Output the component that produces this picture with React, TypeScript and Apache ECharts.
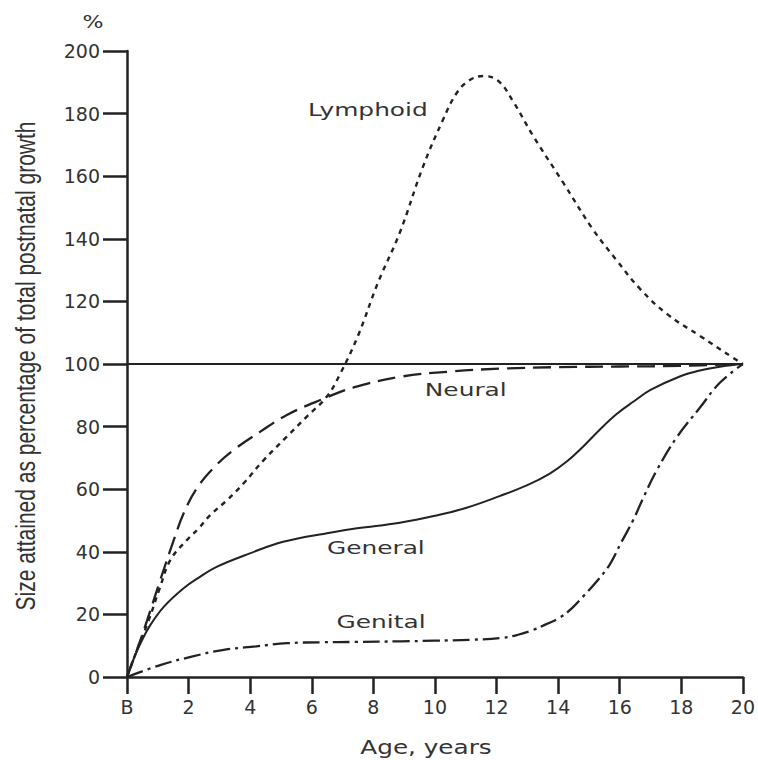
import React, { useEffect, useRef } from "react";
import * as echarts from "echarts";

// ---- data ----
const xTicks = [0, 2, 4, 6, 8, 10, 12, 14, 16, 18, 20];
const yTicks = [0, 20, 40, 60, 80, 100, 120, 140, 160, 180, 200];

const lymphoidAge = [0, 0.3, 0.7, 1.05, 1.41, 1.95, 2.33, 2.71, 3.25, 3.79, 4.44, 5.19, 5.84, 6.49, 6.93, 7.5, 8.15, 8.86, 9.61, 10.26, 10.7, 11.1, 11.56, 12.05, 12.53, 13.18, 14.16, 15.13, 15.91, 16.66, 17.53, 18.6, 19.68, 20];
const lymphoidVal = [0, 8, 18, 28, 37.4, 43.8, 47.5, 51.8, 56.5, 61.9, 69.3, 76.8, 83.2, 89.6, 97, 109, 126, 142, 163, 178, 186.5, 190.5, 192, 190.5, 184, 173, 158, 143, 133, 124, 116, 109, 102, 100];

const neuralAge = [0, 0.3, 0.65, 1.08, 1.52, 1.84, 2.27, 2.81, 3.46, 4.33, 5.19, 6.28, 7.36, 8.86, 10.5, 12.1, 14, 16, 18, 20];
const neuralVal = [0, 8, 18, 31, 43.8, 52.3, 60.3, 66.8, 72.5, 78.4, 83.7, 88.5, 92.5, 95.9, 97.6, 98.5, 99, 99.2, 99.4, 100];

const generalAge = [0, 0.2, 0.45, 0.75, 1.2, 1.83, 2.37, 2.91, 3.99, 5.07, 6.59, 7.47, 8.86, 10.0, 11.0, 12.1, 13.0, 13.73, 14.3, 14.8, 15.35, 15.9, 16.45, 17.0, 17.95, 18.6, 19.3, 20];
const generalVal = [0, 5.4, 11, 16.5, 22.5, 28.3, 32, 35.2, 39.5, 43.2, 46.1, 47.5, 49.3, 51.5, 54, 57.8, 61.3, 65, 69, 73.5, 79, 84, 88, 91.7, 96, 97.9, 99.2, 100];

const genitalAge = [0, 1.08, 2.1, 3.1, 4.2, 5.2, 6.3, 7.4, 8.9, 10.0, 11.2, 12.2, 12.7, 13.18, 13.6, 14.06, 14.45, 14.8, 15.25, 15.68, 16.05, 16.43, 16.8, 17.2, 17.86, 18.6, 19.25, 20];
const genitalVal = [0, 3.8, 6.5, 8.6, 9.8, 10.8, 11.1, 11.2, 11.4, 11.6, 11.9, 12.5, 13.5, 15, 16.8, 19, 22, 25.6, 30.5, 36, 43, 50, 58, 66, 76.7, 86, 94, 100];

const referenceLevel = 100;

const curveLabels = ["Lymphoid", "Neural", "General", "Genital"];
const curveLabelAge = [7.82, 11.0, 8.08, 8.25];
const curveLabelVal = [181.2, 91.7, 41.2, 17.6];

const yTitle = "Size attained as percentage of total postnatal growth";
const xTitle = "Age, years";
const yUnit = "%";

const zip = (a: number[], b: number[]) => a.map((v, i) => [v, b[i]]);

const INK = "#222222";
const TEXT = "#333333";

export default function App() {
  const ref = useRef<HTMLDivElement>(null);

  useEffect(() => {
    if (!ref.current) return;
    const chart = echarts.init(ref.current, undefined, { renderer: "svg" });

    const lineBase = {
      type: "line" as const,
      smooth: 0.4,
      showSymbol: false,
      symbol: "none",
      silent: true,
    };

    chart.setOption({
      animation: false,
      backgroundColor: "#ffffff",
      grid: { left: 127, top: 51, width: 616, height: 626, containLabel: false },
      xAxis: {
        type: "value",
        min: 0,
        max: 20,
        interval: 2,
        axisLine: { show: true, lineStyle: { color: INK, width: 2.5 } },
        axisTick: { show: true, length: 17, lineStyle: { color: INK, width: 2.5 } },
        axisLabel: {
          margin: 20,
          fontSize: 19,
          fontFamily: "DejaVu Sans",
          color: TEXT,
          formatter: (v: number) => (v === xTicks[0] ? "B" : String(v)),
        },
        splitLine: { show: false },
      },
      yAxis: {
        type: "value",
        min: yTicks[0],
        max: yTicks[yTicks.length - 1],
        interval: 20,
        axisLine: { show: true, onZero: false, lineStyle: { color: INK, width: 2.5 } },
        axisTick: { show: true, length: 24, lineStyle: { color: INK, width: 2.5 } },
        axisLabel: {
          margin: 27,
          fontSize: 19,
          fontFamily: "DejaVu Sans",
          color: TEXT,
        },
        splitLine: { show: false },
      },
      series: [
        {
          ...lineBase,
          name: "Lymphoid",
          data: zip(lymphoidAge, lymphoidVal),
          lineStyle: { color: INK, width: 2.4, type: [5, 5] },
        },
        {
          ...lineBase,
          name: "Neural",
          data: zip(neuralAge, neuralVal),
          lineStyle: { color: INK, width: 2.3, type: [18, 8] },
        },
        {
          ...lineBase,
          name: "General",
          data: zip(generalAge, generalVal),
          lineStyle: { color: INK, width: 2, type: "solid" },
          markLine: {
            silent: true,
            symbol: ["none", "none"],
            label: { show: false },
            lineStyle: { color: INK, width: 2, type: "solid" },
            data: [{ yAxis: referenceLevel }],
          },
        },
        {
          ...lineBase,
          name: "Genital",
          data: zip(genitalAge, genitalVal),
          lineStyle: { color: INK, width: 2.3, type: [17, 5, 3, 5] },
        },
      ],
    });

    const labelEls = curveLabels.map((t, i) => {
      const p = chart.convertToPixel({ gridIndex: 0 }, [curveLabelAge[i], curveLabelVal[i]]) as number[];
      return {
        type: "text",
        x: p[0],
        y: p[1],
        scaleX: 1.38,
        silent: true,
        style: {
          text: t,
          fontSize: 18,
          fontFamily: "DejaVu Sans",
          fill: TEXT,
          align: "center",
          verticalAlign: "middle",
        },
      };
    });

    chart.setOption({
      graphic: [
        ...labelEls,
        {
          type: "text",
          x: 93,
          y: 22,
          scaleX: 1.3,
          silent: true,
          style: { text: yUnit, fontSize: 17, fontFamily: "DejaVu Sans", fill: TEXT, align: "center", verticalAlign: "middle" },
        },
        {
          type: "text",
          x: 426,
          y: 748,
          scaleX: 1.3,
          silent: true,
          style: { text: xTitle, fontSize: 19, fontFamily: "DejaVu Sans", fill: TEXT, align: "center", verticalAlign: "middle" },
        },
        {
          type: "text",
          x: 25,
          y: 366,
          rotation: Math.PI / 2,
          scaleY: 1.3,
          silent: true,
          style: { text: yTitle, fontSize: 21, fontFamily: "Liberation Sans", fill: TEXT, align: "center", verticalAlign: "middle" },
        },
      ],
    });

    return () => chart.dispose();
  }, []);

  return (
    <div
      ref={ref}
      style={{ position: "fixed", left: 0, top: 0, width: 758, height: 760, background: "#fff" }}
    />
  );
}
